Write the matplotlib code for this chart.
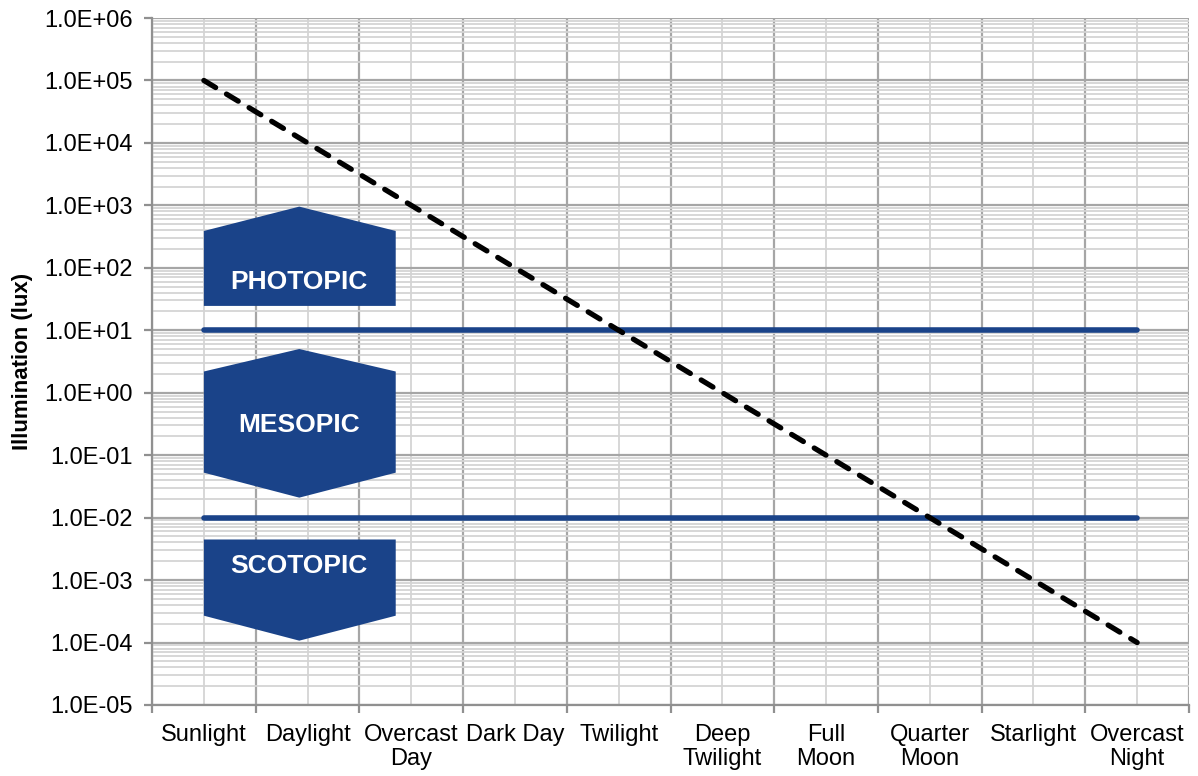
import matplotlib
matplotlib.use('Agg')
import matplotlib.pyplot as plt
from matplotlib.patches import Polygon
from matplotlib.ticker import FixedLocator, FuncFormatter, LogLocator, NullFormatter

plt.rcParams['font.family'] = ['Liberation Sans', 'DejaVu Sans']

categories = ['Sunlight', 'Daylight', 'Overcast\nDay', 'Dark Day', 'Twilight',
              'Deep\nTwilight', 'Full\nMoon', 'Quarter\nMoon', 'Starlight', 'Overcast\nNight']
illumination = [1e5, 1e4, 1e3, 1e2, 1e1, 1e0, 1e-1, 1e-2, 1e-3, 1e-4]
photopic_limit = 1e1
scotopic_limit = 1e-2
regions = ['PHOTOPIC', 'MESOPIC', 'SCOTOPIC']

blue = '#1a4389'
x = list(range(len(categories)))

fig = plt.figure(figsize=(11.98, 7.76), dpi=100)
ax = fig.add_axes([0.1269, 0.0915, 0.8656, 0.8853])
ax.set_yscale('log')
ax.set_ylim(1e-5, 1e6)
ax.set_xlim(-0.5, len(categories) - 0.5)

# grid
ax.yaxis.set_major_locator(LogLocator(base=10, numticks=20))
ax.yaxis.set_minor_locator(LogLocator(base=10, subs=range(2, 10), numticks=20))
ax.yaxis.set_minor_formatter(NullFormatter())
ax.yaxis.set_major_formatter(FuncFormatter(lambda v, p: f'{v:.1E}'))
ax.xaxis.set_major_locator(FixedLocator([i - 0.5 for i in range(len(categories) + 1)]))
ax.xaxis.set_minor_locator(FixedLocator(x))
ax.xaxis.set_major_formatter(NullFormatter())
ax.xaxis.set_minor_formatter(FuncFormatter(lambda v, p: categories[int(round(v))]))

ax.grid(which='major', color='#a6a6a6', linewidth=1.6, zorder=0)
ax.grid(which='minor', color='#d4d4d4', linewidth=1.3, zorder=0)
ax.set_axisbelow(True)

for s in ['top', 'right']:
    ax.spines[s].set_visible(False)
for s in ['left', 'bottom']:
    ax.spines[s].set_color('#909090')
    ax.spines[s].set_linewidth(1.6)

ax.tick_params(axis='both', which='major', direction='out', length=6, width=1.6,
               color='#909090', labelsize=17, pad=8)
ax.tick_params(axis='y', which='minor', length=0)
ax.tick_params(axis='x', which='minor', length=0, labelsize=17, pad=14)
for lbl in ax.get_xticklabels(minor=True):
    lbl.set_linespacing(1.1)

# threshold lines
ax.plot([x[0], x[-1]], [photopic_limit] * 2, color=blue, lw=4, solid_capstyle='round', zorder=3)
ax.plot([x[0], x[-1]], [scotopic_limit] * 2, color=blue, lw=4, solid_capstyle='round', zorder=3)

# illumination trend
ax.plot(x, illumination, color='black', lw=3.8, dashes=(2.6, 2.4),
        dash_capstyle='round', zorder=4)

# region arrows
x0, xm, x1 = 0.0, 0.92, 1.85
shapes = [
    [(x0, 10**1.39), (x0, 10**2.59), (xm, 10**2.98), (x1, 10**2.59), (x1, 10**1.39)],
    [(x0, 10**-1.28), (x0, 10**0.34), (xm, 10**0.70), (x1, 10**0.34), (x1, 10**-1.28), (xm, 10**-1.68)],
    [(x0, 10**-2.35), (x0, 10**-3.57), (xm, 10**-3.97), (x1, 10**-3.57), (x1, 10**-2.35)],
]
label_y = [10**1.78, 10**-0.51, 10**-2.78]
for verts, name, ly in zip(shapes, regions, label_y):
    ax.add_patch(Polygon(verts, closed=True, facecolor=blue, edgecolor='none', zorder=5))
    ax.text(xm, ly, name, color='white', fontsize=19, fontweight='bold',
            ha='center', va='center', zorder=6)

ax.set_ylabel('Illumination (lux)', fontsize=16, fontweight='bold', labelpad=8)

fig.savefig('out.png', dpi=100)
